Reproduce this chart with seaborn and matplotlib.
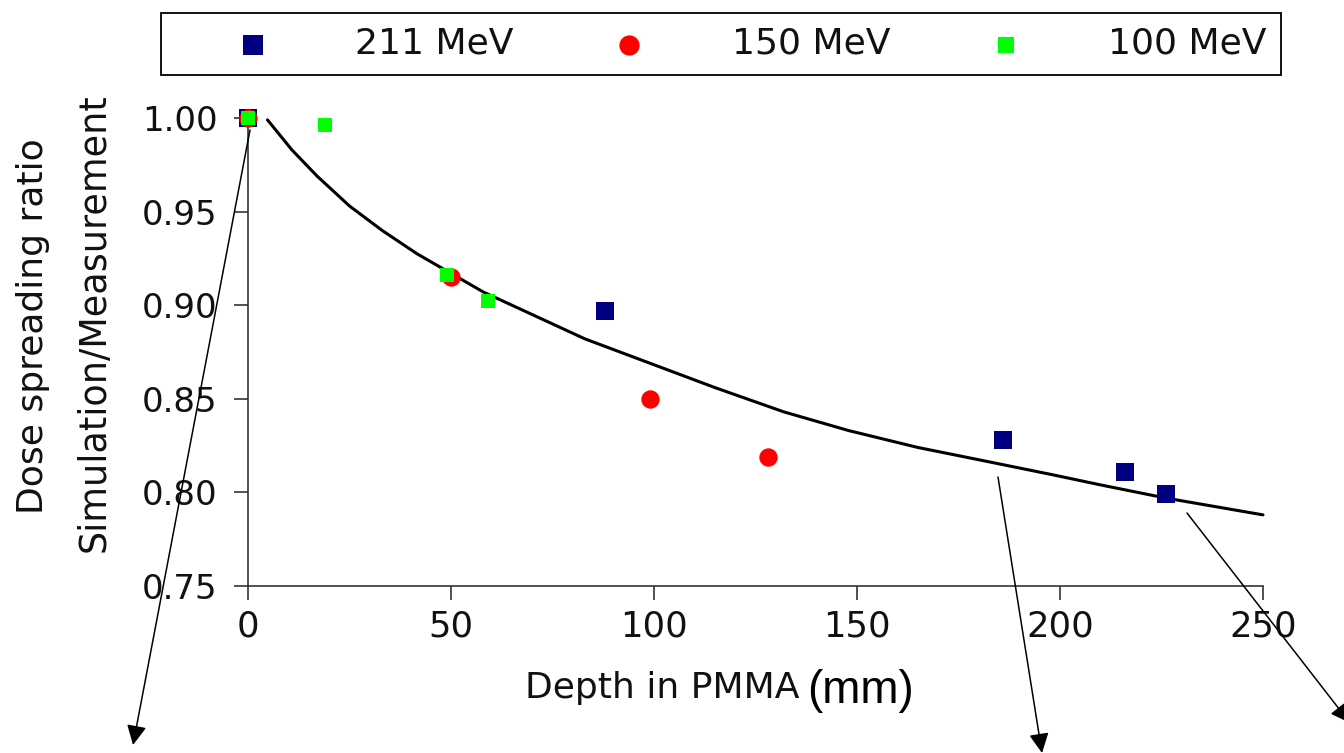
import matplotlib
matplotlib.use("Agg")
import matplotlib.pyplot as plt
import seaborn as sns

# ---- data ----
depth_211 = [0, 88, 186, 216, 226]
ratio_211 = [1.000, 0.897, 0.828, 0.811, 0.799]

depth_150 = [0, 50, 99, 128]
ratio_150 = [1.000, 0.915, 0.850, 0.819]

depth_100 = [0, 19, 49, 59]
ratio_100 = [1.000, 0.996, 0.916, 0.902]

fit_depth = [4.8, 10.8, 17, 25, 33, 41.6, 50, 58, 66, 74.5, 83, 91, 99, 115, 132,
             148, 165, 181, 198, 210, 226, 250]
fit_ratio = [0.999, 0.983, 0.969, 0.953, 0.940, 0.9275, 0.917, 0.907, 0.899, 0.8905,
             0.882, 0.8755, 0.869, 0.856, 0.843, 0.833, 0.824, 0.817, 0.8095, 0.804,
             0.797, 0.788]

series_labels = ["211 MeV", "150 MeV", "100 MeV"]
x_ticks = [0, 50, 100, 150, 200, 250]
y_ticks = [0.75, 0.80, 0.85, 0.90, 0.95, 1.00]

# ---- style ----
sns.set_style("ticks")
plt.rcParams["font.family"] = ["DejaVu Sans"]

W, H = 1344, 753
fig = plt.figure(figsize=(W / 100, H / 100), dpi=100)
ax = fig.add_axes([248 / W, 1 - 586 / H, (1263 - 248) / W, (586 - 118) / H])

sns.lineplot(x=fit_depth, y=fit_ratio, ax=ax, color="black", linewidth=2.2,
             zorder=2, clip_on=False)
sns.scatterplot(x=depth_211, y=ratio_211, ax=ax, marker="s", s=165, color="#000080",
                linewidth=0, label=series_labels[0], zorder=3, clip_on=False)
sns.scatterplot(x=depth_150, y=ratio_150, ax=ax, marker="o", s=175, color="#ff0000",
                linewidth=0, label=series_labels[1], zorder=4, clip_on=False)
sns.scatterplot(x=depth_100, y=ratio_100, ax=ax, marker="s", s=100, color="#00ff00",
                linewidth=0, label=series_labels[2], zorder=5, clip_on=False)

ax.set_xlim(0, 250)
ax.set_ylim(0.75, 1.00)
ax.set_xticks(x_ticks)
ax.set_xticklabels([str(t) for t in x_ticks])
ax.set_yticks(y_ticks)
ax.set_yticklabels([f"{t:.2f}" for t in y_ticks])
sns.despine(ax=ax)
for sp in ("left", "bottom"):
    ax.spines[sp].set_color("#333333")
    ax.spines[sp].set_linewidth(1.2)
ax.tick_params(axis="both", direction="out", length=10, width=1.2, color="#333333",
               labelcolor="#111111")
ax.tick_params(axis="y", pad=12, labelsize=24.5)
ax.tick_params(axis="x", pad=7, labelsize=25.5)

# axis labels
ax.set_xlabel("Depth in PMMA", fontsize=26, ha="left", va="baseline", color="#111111")
ax.xaxis.set_label_coords((525 - 248) / 1015, (586 - 698) / 468)
ax.text((807 - 248) / 1015, (586 - 703) / 468, "(mm)", transform=ax.transAxes,
        fontsize=33, family=["Liberation Sans", "DejaVu Sans"], ha="left",
        va="baseline", color="black")

fig.text(43 / W, 1 - 326 / H, "Dose spreading ratio", rotation=90,
         rotation_mode="anchor", ha="center", va="baseline", fontsize=26,
         color="#111111")
fig.text(105 / W, 1 - 323 / H, "Simulation/Measurement", rotation=90,
         rotation_mode="anchor", ha="center", va="baseline", fontsize=26.3,
         color="#111111")

# legend
handles, labels = ax.get_legend_handles_labels()
if ax.get_legend() is not None:
    ax.get_legend().remove()
leg = fig.legend(handles, labels, loc="center",
                 bbox_to_anchor=(161 / W, 1 - 80 / H, (1281 - 161) / W, 72 / H),
                 mode="expand", ncol=3, fontsize=26, handlelength=4.3,
                 handletextpad=0.68, borderpad=0.4, borderaxespad=0,
                 fancybox=False, frameon=True, edgecolor="black", framealpha=1,
                 markerscale=1.1)
leg.get_frame().set_linewidth(1.3)
for t in leg.get_texts():
    t.set_color("#111111")

# annotation arrows
arrow_kw = dict(arrowstyle="-|>", color="black", lw=1.1, mutation_scale=30,
                shrinkA=0, shrinkB=0)
for (x0, y0), (x1, y1) in [((250, 130), (133, 745)),
                           ((998, 477), (1042, 753)),
                           ((1187, 513), (1350, 723))]:
    ax.annotate("", xy=(x1 / W, 1 - y1 / H), xycoords="figure fraction",
                xytext=(x0 / W, 1 - y0 / H), textcoords="figure fraction",
                arrowprops=arrow_kw, annotation_clip=False)

fig.savefig("out.png", dpi=100)
